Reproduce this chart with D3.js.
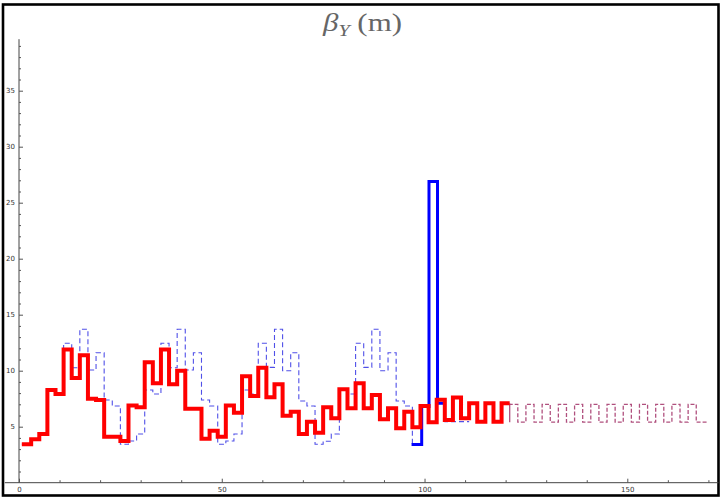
<!DOCTYPE html>
<html>
<head>
<meta charset="utf-8">
<script src="https://cdn.jsdelivr.net/npm/d3@7"></script>
<style>
body { margin: 0; background: #fff; }
.tick text { font-family: "DejaVu Sans", sans-serif; font-size: 7px; fill: #333; }
.tick line { stroke: #555; }
</style>
</head>
<body>
<svg width="721" height="498"></svg>
<script>
// beta_Y along s (m): each series is a list of cell edges and the value on each cell

// lattice beta (blue dashed)
var latticeEdges = [0.7, 3, 5, 7, 9, 11, 13, 15, 17, 19, 21, 23,
                    25, 27, 29, 31, 33, 35, 37, 39, 41, 43, 45, 47,
                    49, 51, 53, 55, 57, 59, 61, 63, 65, 67, 69, 71,
                    73, 75, 77, 79, 81, 83, 85, 87, 89, 91, 93, 95,
                    97, 99];
var latticeBeta = [3.43, 3.87, 4.35, 8.28, 7.92, 12.45, 10.27, 13.7, 10.06, 11.6, 7.38, 6.85,
                   3.43, 3.72, 4.35, 8.28, 7.92, 12.45, 10.27, 13.7, 10.06, 11.6, 7.38, 6.85,
                   3.43, 3.72, 4.35, 8.28, 7.92, 12.45, 10.3, 13.7, 10.0, 11.6, 7.3, 6.85,
                   3.43, 3.7, 4.35, 8.28, 7.92, 12.45, 10.3, 13.7, 10.0, 11.6, 7.3, 6.85,
                   3.43];
var latticeTailEdges = [103.2, 105, 111];
var latticeTailBeta = [7.1, 5.45];

// tracked beam (red)
var beamEdges = [0.7, 3, 5, 7, 9, 11, 13, 15, 17, 19, 21, 25, 27, 29, 31, 33, 35, 37, 39, 41,
                 45, 47, 49, 51, 53, 55, 57, 59, 61, 63, 65, 67, 69, 71, 73, 75, 77, 79, 81, 83,
                 85, 87, 89, 91, 93, 95, 97, 99, 101, 103, 105, 107, 109, 111, 113, 115, 117, 119, 121];
var beamBeta = [3.43, 3.87, 4.35, 8.28, 7.92, 11.9, 9.35, 11.37, 7.5, 7.38, 4.1, 3.72, 6.9, 6.73, 10.75, 8.87, 11.9, 8.8, 10.0, 6.6,
                3.93, 4.64, 4.1, 6.9, 6.25, 9.5, 7.74, 10.27, 7.62, 8.78, 5.98, 6.34, 4.35, 5.45, 4.46, 6.73, 5.75, 8.34, 6.64, 8.87,
                6.64, 7.83, 5.66, 6.64, 4.86, 6.34, 4.94, 6.85, 5.4, 7.4, 5.6, 7.6, 5.75, 7.1, 5.45, 7.1, 5.45, 7.1];

// matching section (blue solid)
var matchEdges = [96.8, 99.3, 101.1, 103.2, 104.7];
var matchBeta = [3.4, 6.8, 26.9, 7.1];

// periodic continuation (purple dashed)
var periodicEdges = [121, 123, 125, 127, 129, 131, 133, 135, 137, 139, 141, 143, 145,
                     147, 149, 151, 153, 155, 157, 159, 161, 163, 165, 167, 169, 170];
var periodicBeta = [5.4, 7.0, 5.4, 7.0, 5.4, 7.0, 5.4, 7.0, 5.4, 7.0, 5.4, 7.0,
                    5.4, 7.0, 5.4, 7.0, 5.4, 7.0, 5.4, 7.0, 5.4, 7.0, 5.4, 7.0, 5.4];

var xMajor = [0, 50, 100, 150];
var xMinor = [10, 20, 30, 40, 60, 70, 80, 90, 110, 120, 130, 140, 160, 170];
var yMajor = [5, 10, 15, 20, 25, 30, 35];

var svg = d3.select("svg");

var x = d3.scaleLinear().domain([0, 150]).range([19, 627.3]);
var y = d3.scaleLinear().domain([0, 35]).range([482.7, 90.7]);

function cells(edges, values) {
  var pts = values.map(function(v, i) { return [edges[i], v]; });
  pts.push([edges[edges.length - 1], values[values.length - 1]]);
  return pts;
}

var stepLine = d3.line()
    .x(function(d) { return x(d[0]); })
    .y(function(d) { return y(d[1]); })
    .curve(d3.curveStepAfter);

// frame
svg.append("rect")
    .attr("x", 3).attr("y", 4.5)
    .attr("width", 715.5).attr("height", 491)
    .attr("fill", "none")
    .attr("stroke", "#000")
    .attr("stroke-width", 2.6);

// axes
svg.append("line")
    .attr("x1", x(-3.5)).attr("x2", x(172.5))
    .attr("y1", y(0)).attr("y2", y(0))
    .attr("stroke", "#444");

svg.append("line")
    .attr("x1", x(0)).attr("x2", x(0))
    .attr("y1", y(0)).attr("y2", y(39.6))
    .attr("stroke", "#444");

var gx = svg.append("g").attr("transform", "translate(0," + y(0) + ")");
gx.call(d3.axisBottom(x).tickValues(xMajor).tickSize(-4).tickPadding(4.5));
gx.append("g").call(d3.axisBottom(x).tickValues(xMinor).tickSize(-2.5).tickFormat(""));
gx.selectAll(".domain").remove();

var gy = svg.append("g").attr("transform", "translate(" + x(0) + ",0)");
gy.call(d3.axisLeft(y).tickValues(yMajor).tickSize(-4).tickPadding(4));
gy.append("g").call(d3.axisLeft(y)
    .tickValues(d3.range(1, 40).filter(function(v) { return v % 5 != 0; }))
    .tickSize(-2).tickFormat(""));
gy.selectAll(".domain").remove();

// series
svg.append("path")
    .datum(cells(latticeEdges, latticeBeta))
    .attr("d", stepLine)
    .attr("fill", "none")
    .attr("stroke", "#5050e8")
    .attr("stroke-width", 1.1)
    .attr("stroke-dasharray", "5,3");

svg.append("path")
    .datum(cells(latticeTailEdges, latticeTailBeta))
    .attr("d", stepLine)
    .attr("fill", "none")
    .attr("stroke", "#5050e8")
    .attr("stroke-width", 1.1)
    .attr("stroke-dasharray", "5,3");

var periodicPts = cells(periodicEdges, periodicBeta);
periodicPts.unshift([beamEdges[beamEdges.length - 1], beamBeta[beamBeta.length - 1]]);
svg.append("path")
    .datum(periodicPts)
    .attr("d", d3.line()
        .x(function(d) { return x(d[0]); })
        .y(function(d) { return y(d[1]); })
        .curve(d3.curveStepBefore))
    .attr("fill", "none")
    .attr("stroke", "#b0507e")
    .attr("stroke-width", 1.3)
    .attr("stroke-dasharray", "4,2");

svg.append("path")
    .datum(cells(matchEdges, matchBeta))
    .attr("d", stepLine)
    .attr("fill", "none")
    .attr("stroke", "#0000ff")
    .attr("stroke-width", 3);

svg.append("path")
    .datum(cells(beamEdges, beamBeta))
    .attr("d", stepLine)
    .attr("fill", "none")
    .attr("stroke", "#ff0000")
    .attr("stroke-width", 4)
    .attr("stroke-linejoin", "miter");

// title
var title = svg.append("text")
    .attr("x", 362.5).attr("y", 31)
    .attr("text-anchor", "middle")
    .attr("textLength", 79)
    .attr("lengthAdjust", "spacingAndGlyphs")
    .style("font-family", "'Liberation Serif', 'Times New Roman', serif")
    .style("font-size", "26px")
    .style("fill", "#666");
title.append("tspan").style("font-style", "italic").text("β");
title.append("tspan").style("font-style", "italic").style("font-size", "17px").attr("dy", 5).text("Y");
title.append("tspan").attr("dy", -5).text(" (m)");
</script>
</body>
</html>
